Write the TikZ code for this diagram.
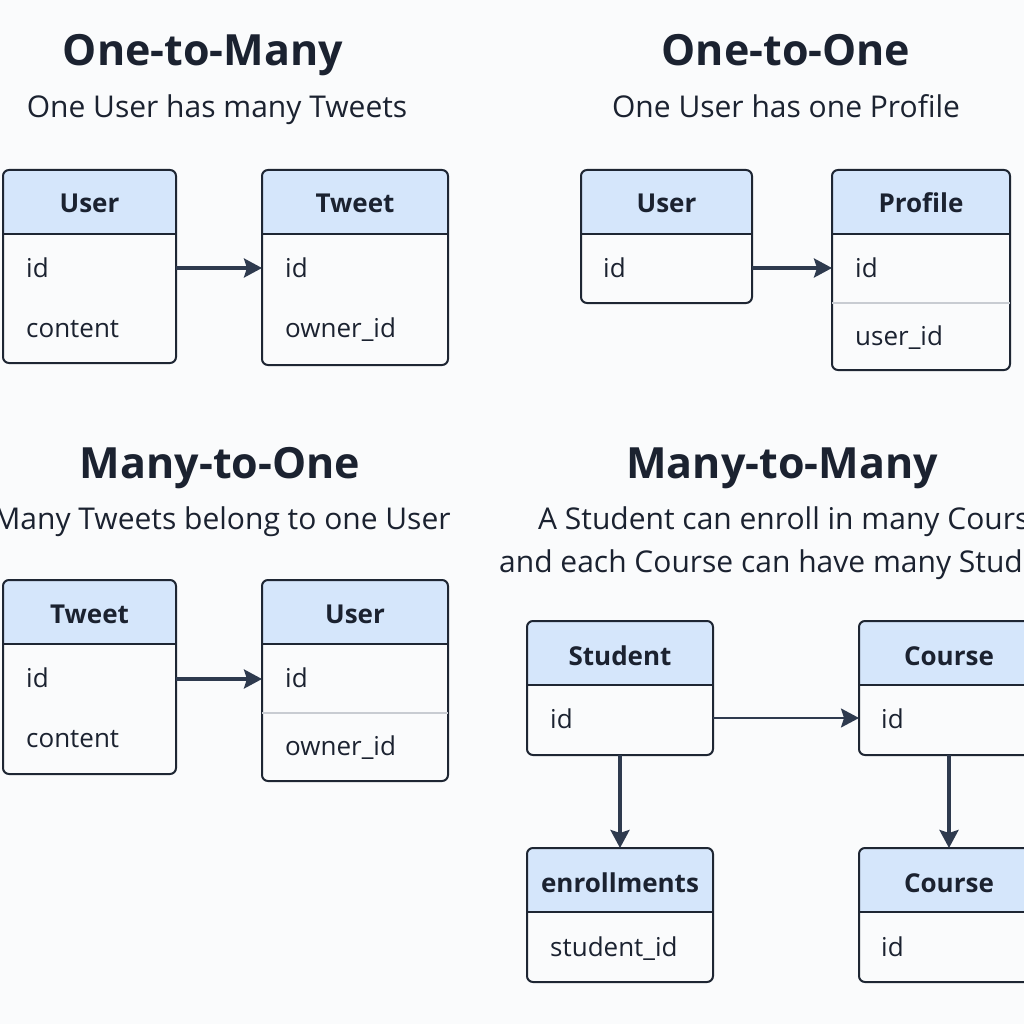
\documentclass[tikz,border=0pt]{standalone}
\usepackage{fontspec}
\setmainfont{Open Sans}
\usetikzlibrary{arrows.meta}
\definecolor{bg}{HTML}{FAFBFC}
\definecolor{ink}{HTML}{1B2230}
\definecolor{edge}{HTML}{1E2633}
\definecolor{hdr}{HTML}{D5E6FB}
\definecolor{arrc}{HTML}{2E3A4E}
\definecolor{sep}{HTML}{C8CCD2}
\tikzset{
  tblbox/.style={draw=edge, line width=2pt, rounded corners=6pt, inner sep=0pt, outer sep=0pt},
  tblline/.style={draw=edge, line width=2pt},
  sepline/.style={draw=sep, line width=1.2pt},
  hdrtext/.style={font=\fontsize{26}{31}\selectfont\bfseries, text=ink, anchor=base, inner sep=0pt},
  fld/.style={font=\fontsize{26}{31}\selectfont, text=ink, anchor=base west, inner sep=0pt},
  ttl/.style={font=\fontsize{43}{52}\selectfont\bfseries, text=ink, anchor=base, inner sep=0pt},
  sub/.style={font=\fontsize{30}{36}\selectfont, text=ink, anchor=base, inner sep=0pt},
  arr/.style={draw=arrc, line width=3.2pt, -{Stealth[length=18pt,width=19pt,inset=3pt]}},
  arrthin/.style={draw=arrc, line width=2pt, -{Stealth[length=18pt,width=19pt,inset=3pt]}},
}
% name, x1, y1, x2, y2, title, title baseline
\newcommand\ertable[7]{%
  \begin{scope}
    \clip[rounded corners=6pt] (#2,#3) rectangle (#4,#5);
    \fill[hdr] (#2,#3) rectangle (#4,#3+64);
  \end{scope}
  \node[tblbox, minimum width={#4pt-#2pt}, minimum height={#5pt-#3pt}] (#1) at ({(#2+#4)/2},{(#3+#5)/2}) {};
  \draw[tblline] (#2,#3+64) -- (#4,#3+64);
  \node[hdrtext] (#1-t) at ({(#2+#4)/2},#7) {#6};
}
\begin{document}
\begin{tikzpicture}[x=1pt,y=-1pt]
\useasboundingbox (0,0) rectangle (1024,1024);
\fill[bg] (0,0) rectangle (1024,1024);
\clip (0,0) rectangle (1024,1024);

% ---------- One-to-Many ----------
\node[ttl] (t1) at (203,66) {One-to-Many};
\node[sub] (s1) at (217,118) {One User has many Tweets};
\ertable{a}{3}{170}{176}{363}{User}{213}
\node[fld] (a-id) at (26,277) {id};
\node[fld] (a-c) at (26,337) {content};
\ertable{b}{262}{170}{448}{365}{Tweet}{213}
\node[fld] (b-id) at (285,277) {id};
\node[fld] (b-o) at (285,337) {owner\_id};
\draw[arr] (a.east |- 0,268) -- (b.west |- 0,268);

% ---------- One-to-One ----------
\node[ttl] (t2) at (786,66) {One-to-One};
\node[sub] (s2) at (786,118) {One User has one Profile};
\ertable{c}{581}{170}{752}{303}{User}{213}
\node[fld] (c-id) at (603,277) {id};
\ertable{d}{832}{170}{1010}{370}{Profile}{213}
\node[fld] (d-id) at (855,277) {id};
\draw[sepline] (832,303) -- (1010,303);
\node[fld] (d-u) at (855,345) {user\_id};
\draw[arr] (c.east |- 0,268) -- (d.west |- 0,268);

% ---------- Many-to-One ----------
\node[ttl] (t3) at (220,478) {Many-to-One};
\node[sub] (s3) at (222,529) {Many Tweets belong to one User};
\ertable{e}{3}{580}{176}{774}{Tweet}{623}
\node[fld] (e-id) at (26,687) {id};
\node[fld] (e-c) at (26,747) {content};
\ertable{f}{262}{580}{448}{781}{User}{623}
\node[fld] (f-id) at (285,687) {id};
\draw[sepline] (262,713) -- (448,713);
\node[fld] (f-o) at (285,755) {owner\_id};
\draw[arr] (e.east |- 0,679) -- (f.west |- 0,679);

% ---------- Many-to-Many ----------
\node[ttl] (t4) at (782,478) {Many-to-Many};
\node[sub, anchor=base west] (s4a) at (538,529) {A Student can enroll in many Courses,};
\node[sub, anchor=base west] (s4b) at (499,572) {and each Course can have many Students.};
\ertable{g}{527}{621}{713}{755}{Student}{665}
\node[fld] (g-id) at (550,728) {id};
\ertable{h}{859}{621}{1039}{755}{Course}{665}
\node[fld] (h-id) at (881,728) {id};
\ertable{i}{527}{848}{713}{982}{enrollments}{892}
\node[fld] (i-s) at (550,956) {student\_id};
\ertable{j}{859}{848}{1039}{982}{Course}{892}
\node[fld] (j-id) at (881,956) {id};
\draw[arrthin] (g.east |- 0,718) -- (h.west |- 0,718);
\draw[arr] (g.south) -- (i.north);
\draw[arr] (h.south -| 949,0) -- (j.north -| 949,0);
\end{tikzpicture}
\end{document}
